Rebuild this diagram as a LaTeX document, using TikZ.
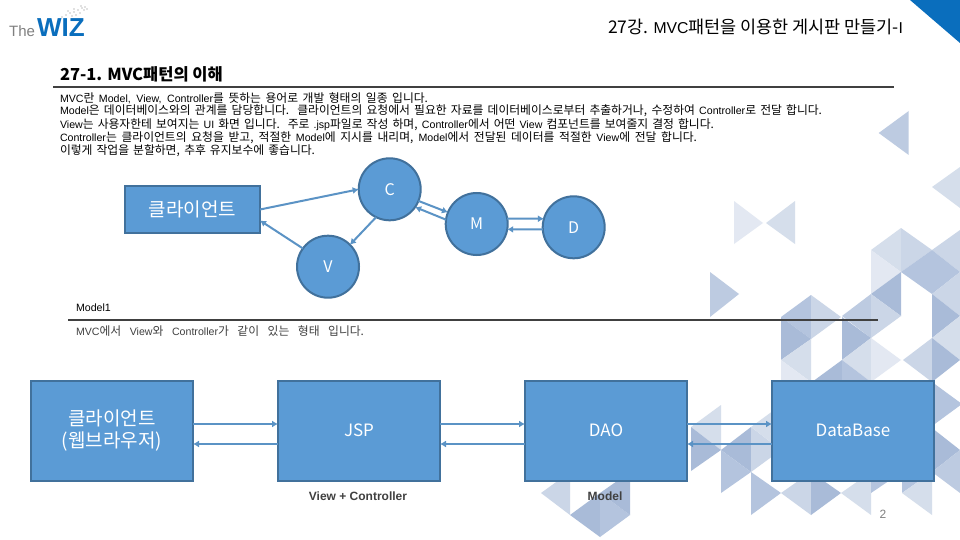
\documentclass[tikz,border=0pt]{standalone}
\usepackage{fontspec}
\usetikzlibrary{arrows.meta}
\setmainfont{Noto Sans CJK KR}
\newfontfamily\enfont[Scale=0.9]{Liberation Sans}
\newfontfamily\logofont{Liberation Sans}
\newcommand{\en}[1]{{\enfont #1}}
\newcommand{\fs}[1]{\fontsize{#1}{#1}\selectfont}
\newcommand{\tri}[4]{\fill[#1] #2 -- #3 -- #4 -- cycle;}
\definecolor{ta}{HTML}{E3E8F2}
\definecolor{tb}{HTML}{D5DEEB}
\definecolor{tc}{HTML}{CBD6E7}
\definecolor{td}{HTML}{BDCBE1}
\definecolor{te}{HTML}{B4C4DE}
\definecolor{tf}{HTML}{A9BBD8}
\definecolor{boxfill}{HTML}{5B9BD5}
\definecolor{boxedge}{HTML}{41719C}
\definecolor{arrowc}{HTML}{5B93C5}
\definecolor{rulec}{HTML}{404040}
\definecolor{corner}{HTML}{0A6EBD}
\tikzset{
  boxnode/.style={rectangle,draw=boxedge,fill=boxfill,line width=2pt,inner sep=0pt,outer sep=0pt,minimum width=162pt,minimum height=100pt,text=white,align=center},
  smallbox/.style={boxnode,minimum width=135pt,minimum height=47pt},
  ball/.style={circle,draw=boxedge,fill=boxfill,line width=2pt,inner sep=0pt,outer sep=0pt,minimum size=62pt,text=white,font=\fs{16}},
  link/.style={draw=arrowc,line width=2pt,-{Latex[length=6pt,width=7pt]}},
  txt/.style={anchor=west,inner sep=0pt,outer sep=0pt,text=black},
  rulebar/.style={draw=rulec,line width=2pt},
  captext/.style={inner sep=0pt,outer sep=0pt,text=rulec,font=\logofont\bfseries\fs{12}}
}
\begin{document}
\begin{tikzpicture}[x=1pt,y=-1pt]
\useasboundingbox (0,0) rectangle (960,540);
\fill[white] (0,0) rectangle (960,540);
% background triangles
\tri{td}{(908.7,111)}{(908.7,155)}{(878.7,133)}
\tri{ta}{(734,201)}{(734,244)}{(763,223)}
\tri{tb}{(795,201)}{(795,244)}{(766,223)}
\tri{tb}{(960,167)}{(932,187)}{(960,208)}
\tri{td}{(710,272)}{(710,317)}{(739,294)}
\tri{tb}{(871,250)}{(901,228)}{(901,272)}
\tri{tc}{(901,228)}{(932,250)}{(901,272)}
\tri{ta}{(871,250)}{(901,272)}{(871,294)}
\tri{te}{(901,272)}{(932,250)}{(932,294)}
\tri{tc}{(932,250)}{(960,230)}{(960,272)}
\tri{te}{(932,250)}{(960,272)}{(932,294)}
\tri{tc}{(932,294)}{(960,272)}{(960,316)}
\tri{tf}{(871,294)}{(901,272)}{(901,316)}
\tri{td}{(842,316)}{(871,294)}{(871,338)}
\tri{tc}{(871,294)}{(901,316)}{(871,338)}
\tri{tf}{(932,294)}{(960,316)}{(932,338)}
\tri{tb}{(932,338)}{(960,316)}{(960,360)}
\tri{te}{(781,317)}{(811,295)}{(811,339)}
\tri{tc}{(811,295)}{(841,317)}{(811,339)}
\tri{tf}{(781,317)}{(811,339)}{(781,360)}
\tri{tb}{(781,360)}{(811,339)}{(811,382)}
\tri{ta}{(781,360)}{(811,382)}{(781,382)}
\tri{tf}{(842,317)}{(871,338)}{(842,360)}
\tri{tb}{(842,360)}{(871,338)}{(871,382)}
\tri{ta}{(871,338)}{(901,360)}{(871,382)}
\tri{tc}{(903,360)}{(932,338)}{(932,382)}
\tri{tf}{(932,338)}{(960,360)}{(932,382)}
\tri{tf}{(812,382)}{(842,360)}{(842,382)}
\tri{te}{(842,360)}{(871,382)}{(842,382)}
\tri{te}{(932,382)}{(962,404)}{(932,426)}
\tri{tf}{(932,428)}{(960,450)}{(932,472)}
\tri{td}{(932,472)}{(960,450)}{(960,493)}
\tri{tb}{(691,427)}{(721,405)}{(721,450)}
\tri{tf}{(691,427)}{(721,450)}{(691,471)}
\tri{tf}{(721,450)}{(751,427)}{(751,472)}
\tri{te}{(721,450)}{(751,472)}{(721,493)}
\tri{tc}{(751,427)}{(781,450)}{(751,472)}
\tri{tb}{(751,427)}{(781,405)}{(781,450)}
\tri{te}{(751,472)}{(781,493)}{(751,515)}
\tri{tc}{(781,493)}{(811,472)}{(811,515)}
\tri{tf}{(811,472)}{(841,493)}{(811,515)}
\tri{tb}{(841,493)}{(871,472)}{(871,515)}
\tri{te}{(871,450)}{(902,472)}{(871,493)}
\tri{te}{(902,450)}{(932,472)}{(902,493)}
\tri{tb}{(902,493)}{(932,472)}{(932,515)}
\tri{tc}{(541,493)}{(570,472)}{(570,515)}
\tri{tf}{(570,515)}{(600,493)}{(600,537)}
\tri{te}{(600,493)}{(630,515)}{(600,537)}
\tri{tf}{(630,472)}{(600,493)}{(630,515)}
% corner
\fill[corner] (910,0) -- (960,0) -- (960,43) -- cycle;
% logo
\node[inner sep=0pt,anchor=base west,text=gray,font=\logofont\fs{15}] (the) at (9,37) {The};
\node[inner sep=0pt,anchor=base west,text=corner,font=\logofont\bfseries\fs{26}] (wiz) at (37,37) {WIZ};
\foreach \px/\py in {62/17,66/15,70/13,74/12,78/10,82/8,85/7,72/16,76/15,80/13,84/10,87/9,68/11,74/9,81/6}
  \fill[gray] (\px,\py) circle (0.7);
% headings
\node[inner sep=0pt,outer sep=0pt,anchor=east,text=black] (title) at (903,27) {\makebox[295pt][s]{\fs{17.5}27강. \en{MVC}패턴을 이용한 게시판 만들기-\en{I}}};
\node[txt,font=\bfseries\fs{16.5}] (head) at (60,74) {27-1. MVC패턴의 이해};
\coordinate (r1a) at (53,87);
\coordinate (r1b) at (894,87);
\draw[rulebar] (r1a) -- (r1b);
% body
\node[txt] (b1) at (60,98) {\makebox[368pt][s]{\fs{11.8}\en{MVC}란 \en{Model, View, Controller}를 뜻하는 용어로 개발 형태의 일종 입니다.}};
\node[txt] (b2) at (60,111) {\makebox[762pt][s]{\fs{11.8}\en{Model}은 데이터베이스와의 관계를 담당합니다. 클라이언트의 요청에서 필요한 자료를 데이터베이스로부터 추출하거나, 수정하여 \en{Controller}로 전달 합니다.}};
\node[txt] (b3) at (60,124.5) {\makebox[654pt][s]{\fs{11.8}\en{View}는 사용자한테 보여지는 \en{UI} 화면 입니다. 주로 \en{.jsp}파일로 작성 하며, \en{Controller}에서 어떤 \en{View} 컴포넌트를 보여줄지 결정 합니다.}};
\node[txt] (b4) at (60,137.5) {\makebox[637pt][s]{\fs{11.8}\en{Controller}는 클라이언트의 요청을 받고, 적절한 \en{Model}에 지시를 내리며, \en{Model}에서 전달된 데이터를 적절한 \en{View}에 전달 합니다.}};
\node[txt] (b5) at (60,151) {\makebox[255pt][s]{\fs{11.8}이렇게 작업을 분할하면, 추후 유지보수에 좋습니다.}};
% upper diagram
\node[smallbox,font=\fs{19}] (client) at (192.5,209.5) {클라이언트};
\node[ball] (C) at (389.7,189.3) {C};
\node[ball] (M) at (476.7,224) {M};
\node[ball] (D) at (573.7,227.3) {D};
\node[ball] (V) at (328,266.7) {V};
\draw[link] (client.east) -- (C.180);
\draw[link] (C.244) -- (V.45);
\draw[link] (V.144) -- ([yshift=-11pt]client.east);
\draw[link] (C.-22) -- (M.158);
\draw[link] (M.172) -- (C.-35);
\draw[link] (M.10) -- (D.164);
\draw[link] (D.184) -- (M.-10);
% model1
\node[txt] (m1) at (76,308) {\fs{11.8}\en{Model1}};
\coordinate (r2a) at (68,319.7);
\coordinate (r2b) at (878,319.7);
\draw[rulebar] (r2a) -- (r2b);
\node[txt,text=rulec] (m2) at (76,331) {\makebox[288pt][s]{\fs{11.8}\en{MVC}에서 \en{View}와 \en{Controller}가 같이 있는 형태 입니다.}};
% lower diagram
\node[boxnode,font=\fontsize{19}{22}\selectfont] (cl) at (112,430.5) {클라이언트\\(웹브라우저)};
\node[boxnode,font=\fs{17}] (jsp) at (359,430.5) {JSP};
\node[boxnode,font=\fs{17}] (dao) at (606,430.5) {DAO};
\node[boxnode,font=\fs{17}] (db) at (853,430.5) {DataBase};
\foreach \l/\r in {cl/jsp,jsp/dao,dao/db}{
  \draw[link] ([yshift=6.5pt]\l.east) -- ([yshift=6.5pt]\r.west);
  \draw[link] ([yshift=-13.5pt]\r.west) -- ([yshift=-13.5pt]\l.east);
}
\node[captext] (vc) at (358,496.5) {View + Controller};
\node[captext] (mo) at (605,496.5) {Model};
\node[inner sep=0pt,text=gray,font=\logofont\fs{12}] (pg) at (883,514) {2};
\end{tikzpicture}
\end{document}
